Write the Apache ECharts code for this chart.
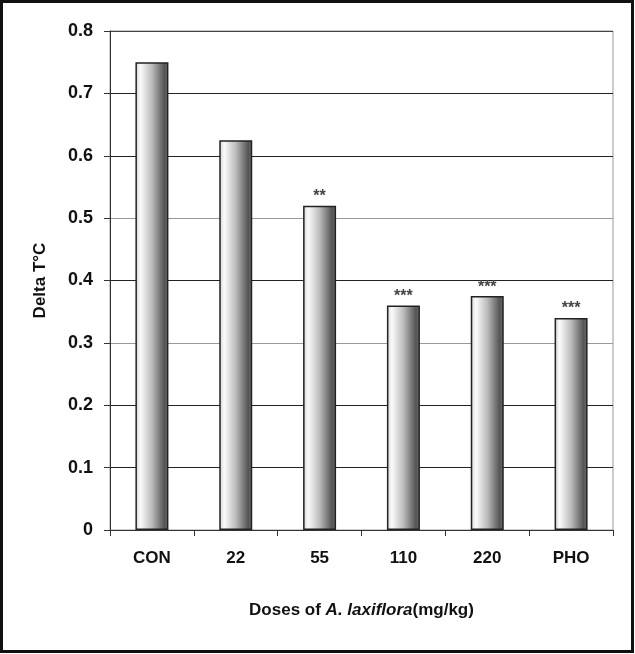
<!DOCTYPE html>
<html>
<head>
<meta charset="UTF-8">
<title>delta_t.html</title>
<script src="https://cdn.jsdelivr.net/npm/echarts@6/dist/echarts.min.js"></script>
<style type="text/css">
  html, body { margin:0; padding:0; background:#fff; }
  #chart { width:635px; height:654px; }
</style>
</head>
<body>
<div id="chart"></div>
<script>
// data
var doses = ['CON', '22', '55', '110', '220', 'PHO'];
var deltaT = [0.75, 0.625, 0.52, 0.36, 0.375, 0.34];
var stars = ['', '', '**', '***', '***', '***'];
var yTicks = [0, 0.1, 0.2, 0.3, 0.4, 0.5, 0.6, 0.7, 0.8];

var myChart = echarts.init(document.getElementById('chart'));

var barFill = new echarts.graphic.LinearGradient(0, 0, 1, 0, [
  { offset: 0, color: '#d0d0d0' },
  { offset: 0.15, color: '#fbfbfb' },
  { offset: 0.5, color: '#bcbcbc' },
  { offset: 0.88, color: '#545454' },
  { offset: 1, color: '#707070' }
]);

var option = {
  animation: false,
  backgroundColor: '#fff',
  textStyle: { fontFamily: 'Liberation Sans, Arial, sans-serif' },
  graphic: [{
    type: 'rect',
    shape: { x: 1.5, y: 1.5, width: 631, height: 650 },
    style: { fill: 'none', stroke: '#111', lineWidth: 3 },
    z: 100
  }],
  grid: {
    left: 110, right: 22, top: 31, bottom: 124,
    show: true, borderColor: '#999', borderWidth: 1
  },
  xAxis: {
    type: 'category',
    data: doses,
    axisLine: { lineStyle: { color: '#333', width: 1 } },
    axisTick: { show: true, length: 6, lineStyle: { color: '#333' } },
    axisLabel: { margin: 20, fontSize: 17, fontWeight: 'bold', color: '#111' },
    name: '{n|Doses of }{i|A. laxiflora}{n|(mg/kg)}',
    nameLocation: 'middle',
    nameGap: 72,
    nameTextStyle: {
      rich: {
        n: { fontSize: 17, fontWeight: 'bold', color: '#111' },
        i: { fontSize: 17, fontWeight: 'bold', fontStyle: 'italic', color: '#111' }
      }
    }
  },
  yAxis: {
    type: 'value',
    min: yTicks[0],
    max: yTicks[yTicks.length - 1],
    interval: 0.1,
    axisLine: { show: true, lineStyle: { color: '#333' } },
    axisTick: { show: true, length: 6, lineStyle: { color: '#333' } },
    axisLabel: {
      margin: 17, fontSize: 18, fontWeight: 'bold', color: '#111',
      formatter: function (v) { return v === 0 ? '0' : v.toFixed(1); }
    },
    splitLine: {
      lineStyle: {
        color: ['#222', '#222', '#222', '#999', '#222', '#999', '#222', '#222', '#444'],
        width: 1.2
      }
    },
    name: 'Delta T°C',
    nameLocation: 'middle',
    nameGap: 61,
    nameTextStyle: { fontSize: 17, fontWeight: 'bold', color: '#111' }
  },
  series: [{
    type: 'bar',
    data: deltaT,
    barWidth: 33,
    itemStyle: { color: barFill, borderColor: '#222', borderWidth: 1.5 },
    label: {
      show: true,
      position: 'top',
      distance: 1,
      fontSize: 16,
      fontWeight: 'bold',
      color: '#444',
      formatter: function (p) { return stars[p.dataIndex]; }
    }
  }]
};
myChart.setOption(option);
</script>
</body>
</html>
